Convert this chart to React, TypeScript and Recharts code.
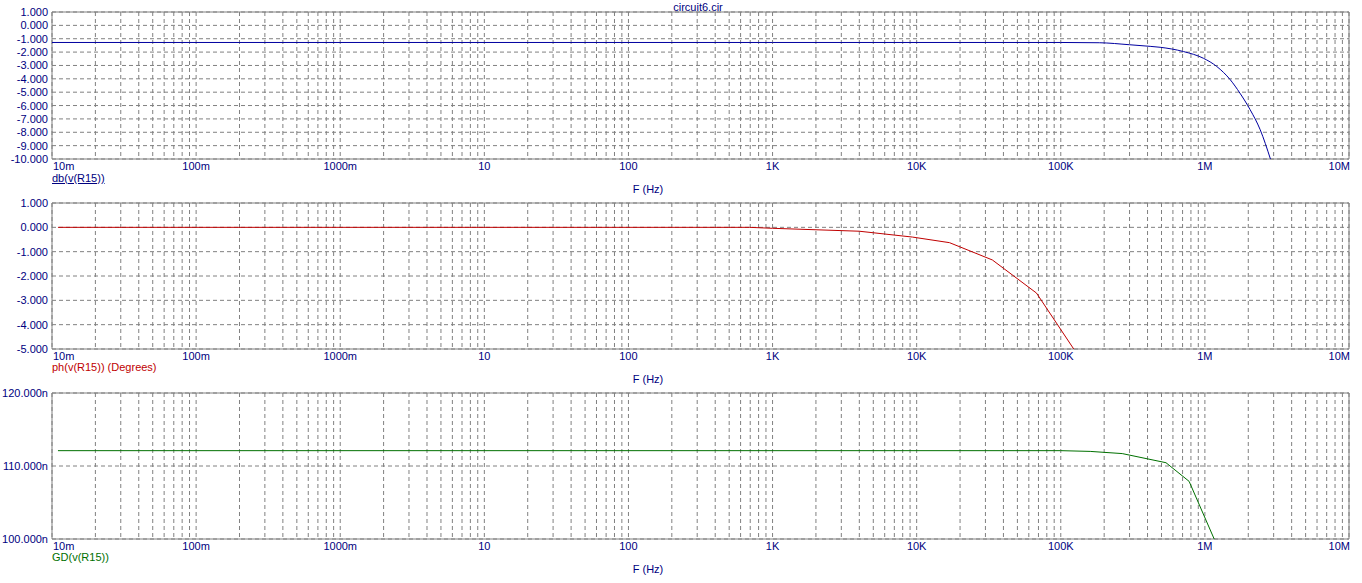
import React from 'react';
import {
  LineChart,
  Line,
  XAxis,
  YAxis,
  CartesianGrid,
  ReferenceArea
} from 'recharts';

// frequency decades and their labels
const decades = [0.01, 0.1, 1, 10, 100, 1e3, 1e4, 1e5, 1e6, 1e7];
const decadeLabels = ['10m', '100m', '1000m', '10', '100', '1K', '10K', '100K', '1M', '10M'];

// db(v(R15))
const dbFreq = [0.01, 1e3, 1e5, 185e3, 300e3, 417e3, 489e3, 710e3, 976e3, 1.21e6, 1.5e6, 1.75e6, 2.06e6, 2.42e6, 2.85e6];
const dbValues = [-1.28, -1.28, -1.28, -1.3, -1.45, -1.57, -1.64, -1.96, -2.46, -3.08, -4.07, -5.07, -6.31, -7.81, -10];
const dbTicks = [1, 0, -1, -2, -3, -4, -5, -6, -7, -8, -9, -10];

// ph(v(R15)) (Degrees)
const phFreq = [0.011, 692, 1000, 4000, 9350, 16900, 33500, 67800, 123000];
const phValues = [0, 0, -0.04, -0.16, -0.4, -0.63, -1.34, -2.7, -5];
const phTicks = [1, 0, -1, -2, -3, -4, -5];

// GD(v(R15)) in ns
const gdFreq = [0.011, 1e5, 160e3, 267e3, 537e3, 777e3, 1.16e6];
const gdValues = [112.1, 112.1, 112.0, 111.7, 110.45, 107.9, 100];
const gdTicks = [100, 110, 120];

const NAVY = '#000080';
const GRID = '#808080';
const FONT = "'Liberation Sans', Arial, sans-serif";

const minorTicks: number[] = [];
decades.slice(0, -1).forEach(d => {
  for (let k = 1; k < 10; k++) minorTicks.push(d * k);
});
minorTicks.push(1e7);

const toRows = (fs: number[], vs: number[]) => fs.map((f, i) => ({ f, v: vs[i] }));

function XTick(props: any) {
  const { x, y, payload } = props;
  const idx = decades.findIndex(d => Math.abs(d - payload.value) / d < 1e-6);
  if (idx < 0) return null;
  const anchor = idx === 0 ? 'start' : idx === decades.length - 1 ? 'end' : 'middle';
  const dx = idx === 0 ? 1 : idx === decades.length - 1 ? 1 : 0;
  return (
    <text x={x + dx} y={y + 3} textAnchor={anchor} fill={NAVY} fontSize={11} fontFamily={FONT}>
      {decadeLabels[idx]}
    </text>
  );
}

function makeYTick(fmt: (v: number) => string) {
  return function YTick(props: any) {
    const { y, payload } = props;
    return (
      <text x={48} y={y + 4} textAnchor="end" fill={NAVY} fontSize={11} fontFamily={FONT}>
        {fmt(payload.value)}
      </text>
    );
  };
}

interface PanelProps {
  top: number;
  height: number;
  data: { f: number; v: number }[];
  ticks: number[];
  color: string;
  fmt: (v: number) => string;
  curve: 'linear' | 'monotone';
}

function Panel({ top, height, data, ticks, color, fmt, curve }: PanelProps) {
  const yMin = Math.min(...ticks);
  const yMax = Math.max(...ticks);
  return (
    <div style={{ position: 'absolute', left: 0, top }}>
      <LineChart width={1362} height={height} data={data} margin={{ top: 12, right: 13, bottom: 0, left: 0 }}>
        <CartesianGrid stroke={GRID} strokeDasharray="4 3" />
        <XAxis
          dataKey="f"
          type="number"
          scale="log"
          domain={[0.01, 1e7]}
          allowDataOverflow
          ticks={minorTicks}
          interval={0}
          height={31}
          tickLine={false}
          axisLine={false}
          tick={<XTick />}
        />
        <YAxis
          type="number"
          domain={[yMin, yMax]}
          allowDataOverflow
          ticks={ticks}
          interval={0}
          width={52}
          tickLine={false}
          axisLine={false}
          tick={makeYTick(fmt)}
        />
        <ReferenceArea x1={0.01} x2={1e7} y1={yMin} y2={yMax} fill="#ffffff" fillOpacity={0} stroke="#808080" strokeOpacity={1} />
        <Line
          dataKey="v"
          type={curve}
          stroke={color}
          strokeWidth={1}
          dot={false}
          isAnimationActive={false}
        />
      </LineChart>
    </div>
  );
}

const textStyle: React.CSSProperties = {
  position: 'absolute',
  fontFamily: FONT,
  fontSize: 11,
  lineHeight: '12px',
  whiteSpace: 'nowrap'
};

export default function App() {
  return (
    <div style={{ position: 'absolute', left: 0, top: 0, width: 1362, height: 583, background: '#ffffff' }}>
      <div style={{ ...textStyle, left: 0, width: 1396, top: 1, textAlign: 'center', color: NAVY }}>circuit6.cir</div>

      <Panel top={0} height={190} data={toRows(dbFreq, dbValues)} ticks={dbTicks} color="#0000a0" fmt={v => v.toFixed(3)} curve="monotone" />
      <div style={{ ...textStyle, left: 52, top: 172, color: NAVY, textDecoration: 'underline' }}>db(v(R15))</div>
      <div style={{ ...textStyle, left: 0, width: 1296, top: 183, textAlign: 'center', color: NAVY }}>F (Hz)</div>

      <Panel top={191} height={189} data={toRows(phFreq, phValues)} ticks={phTicks} color="#c00000" fmt={v => v.toFixed(3)} curve="linear" />
      <div style={{ ...textStyle, left: 52, top: 361, color: '#c00000' }}>ph(v(R15)) (Degrees)</div>
      <div style={{ ...textStyle, left: 0, width: 1296, top: 373, textAlign: 'center', color: NAVY }}>F (Hz)</div>

      <Panel top={381} height={189} data={toRows(gdFreq, gdValues)} ticks={gdTicks} color="#007000" fmt={v => v.toFixed(3) + 'n'} curve="linear" />
      <div style={{ ...textStyle, left: 52, top: 551, color: '#007000' }}>GD(v(R15))</div>
      <div style={{ ...textStyle, left: 0, width: 1296, top: 563, textAlign: 'center', color: NAVY }}>F (Hz)</div>
    </div>
  );
}
